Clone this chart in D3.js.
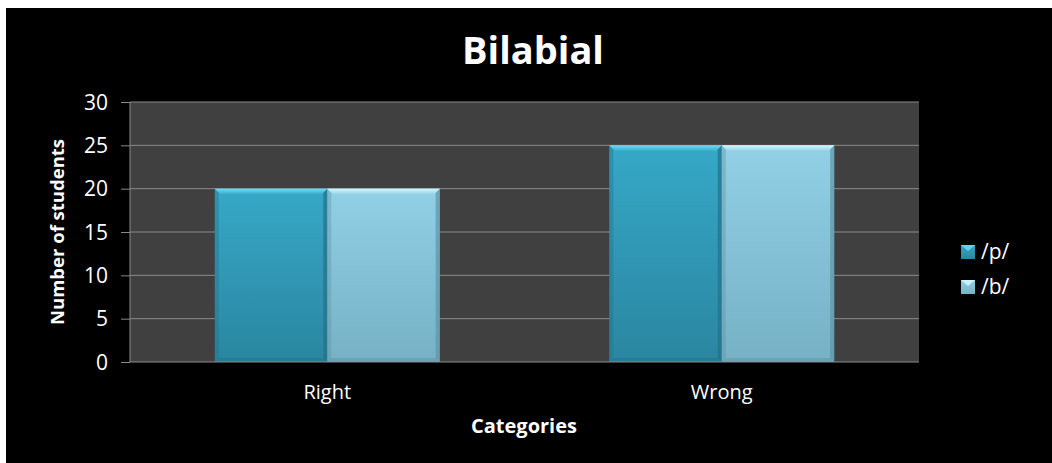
<!DOCTYPE html>
<html>
<head>
<meta charset="utf-8">
<script src="https://cdn.jsdelivr.net/npm/d3@7"></script>
<style>
  body { margin: 0; background: #fff; }
  text { font-family: "Open Sans", sans-serif; fill: #fff; }
</style>
</head>
<body>
<div class="chart"></div>
<script>
// data
const categories = ["Right", "Wrong"];
const seriesNames = ["/p/", "/b/"];
const pValues = [20, 25];
const bValues = [20, 25];
const yTicks = [0, 5, 10, 15, 20, 25, 30];

const W = 1052, H = 463;
const margin = ({ top: 102, right: 133, bottom: 101, left: 130 });
const width = W - margin.left - margin.right,
    height = H - margin.top - margin.bottom;

const svg = d3.select(".chart").append("svg")
    .attr("width", W)
    .attr("height", H);

// black chart frame with white page margin
svg.append("rect").attr("x", 6).attr("y", 8).attr("width", W - 6).attr("height", H - 8).attr("fill", "#000");

const colors = [
    { top: "#36a8c8", bottom: "#2a86a0", light: "#6fdcf5", dark: "#22708a" },
    { top: "#91d0e6", bottom: "#76b1c5", light: "#d2f8fe", dark: "#5f93a6" }
];

const defs = svg.append("defs");
colors.forEach((c, i) => {
    const lg = defs.append("linearGradient").attr("id", "fill" + i)
        .attr("x1", 0).attr("y1", 0).attr("x2", 0).attr("y2", 1);
    lg.append("stop").attr("offset", "0%").attr("stop-color", c.top);
    lg.append("stop").attr("offset", "100%").attr("stop-color", c.bottom);
    const lgTop = defs.append("linearGradient").attr("id", "topb" + i)
        .attr("x1", 0).attr("y1", 0).attr("x2", 0).attr("y2", 1);
    lgTop.append("stop").attr("offset", "0%").attr("stop-color", c.light);
    lgTop.append("stop").attr("offset", "100%").attr("stop-color", c.top);
});

const x0 = d3.scaleBand().domain(categories).range([0, width])
    .paddingInner(0.43).paddingOuter(0.215);
const x1 = d3.scaleBand().domain(seriesNames).range([0, x0.bandwidth()]);
const y = d3.scaleLinear().domain([0, 30]).range([height, 0]);

const g = svg.append("g").attr("transform", `translate(${margin.left},${margin.top})`);

// plot area
g.append("rect").attr("width", width).attr("height", height).attr("fill", "#404040");

// gridlines
g.append("g").selectAll("line").data(yTicks.filter(t => t > 0)).join("line")
    .attr("x1", 0).attr("x2", width)
    .attr("y1", d => y(d)).attr("y2", d => y(d))
    .attr("stroke", "#8a8a8a").attr("stroke-width", 1);

// bars
const rows = categories.map((c, i) => ({ cat: c, vals: [pValues[i], bValues[i]] }));
const bevel = 6;
rows.forEach(r => {
    r.vals.forEach((v, s) => {
        const bx = x0(r.cat) + x1(seriesNames[s]);
        const bw = x1.bandwidth();
        const by = y(v);
        const bh = height - y(v);
        const c = colors[s];
        const bar = g.append("g").attr("class", "bar");
        bar.append("rect").attr("x", bx).attr("y", by).attr("width", bw).attr("height", bh)
            .attr("fill", `url(#fill${s})`);
        // side bevels
        bar.append("polygon")
            .attr("points", [[bx, by], [bx + 4, by + 4], [bx + 4, by + bh - 4], [bx, by + bh]].join(" "))
            .attr("fill", c.dark).attr("opacity", 0.4);
        bar.append("polygon")
            .attr("points", [[bx + bw, by], [bx + bw - 4, by + 4], [bx + bw - 4, by + bh - 4], [bx + bw, by + bh]].join(" "))
            .attr("fill", c.dark).attr("opacity", 0.7);
        bar.append("polygon")
            .attr("points", [[bx, by + bh], [bx + 4, by + bh - 4], [bx + bw - 4, by + bh - 4], [bx + bw, by + bh]].join(" "))
            .attr("fill", c.dark).attr("opacity", 0.5);
        // top bevel
        bar.append("polygon")
            .attr("points", [[bx, by], [bx + bw, by], [bx + bw - bevel, by + bevel], [bx + bevel, by + bevel]].join(" "))
            .attr("fill", `url(#topb${s})`);
    });
});

// y axis
const yAxis = d3.axisLeft(y).tickValues(yTicks).tickSize(9).tickPadding(13);
g.append("g").attr("class", "axis y-axis").call(yAxis)
    .call(a => a.select(".domain").attr("stroke", "#8a8a8a").attr("d", `M0,0V${height}`))
    .call(a => a.selectAll(".tick line").attr("stroke", "#8a8a8a"))
    .call(a => a.selectAll(".tick text").attr("fill", "#fff")
        .style("font-size", "21px").style("font-family", "'Open Sans', sans-serif").attr("dy", "0.34em"));

// x axis
g.append("line").attr("x1", 0).attr("x2", width).attr("y1", height).attr("y2", height)
    .attr("stroke", "#8a8a8a");
g.append("g").selectAll("text").data(categories).join("text")
    .attr("x", d => x0(d) + x0.bandwidth() / 2)
    .attr("y", height + 37)
    .attr("text-anchor", "middle")
    .style("font-size", "20px")
    .text(d => d);

// titles
svg.append("text").attr("x", 533).attr("y", 64).attr("text-anchor", "middle")
    .style("font-size", "38px").style("font-weight", "bold").text("Bilabial");
svg.append("text").attr("x", 524).attr("y", 433).attr("text-anchor", "middle")
    .style("font-size", "20px").style("font-weight", "bold").text("Categories");
svg.append("text").attr("transform", `translate(64,${margin.top + height / 2}) rotate(-90)`)
    .attr("text-anchor", "middle")
    .style("font-size", "18.5px").style("font-weight", "bold").text("Number of students");

// legend
const legend = svg.append("g").attr("transform", "translate(961,245)");
seriesNames.forEach((name, i) => {
    const item = legend.append("g").attr("transform", `translate(0,${i * 35})`);
    item.append("rect").attr("width", 14).attr("height", 14).attr("fill", `url(#fill${i})`);
    item.append("polygon").attr("points", "0,0 14,0 7,6").attr("fill", colors[i].light).attr("opacity", 0.85);
    item.append("text").attr("x", 20).attr("y", 14).style("font-size", "21px").text(name);
});
</script>
</body>
</html>
